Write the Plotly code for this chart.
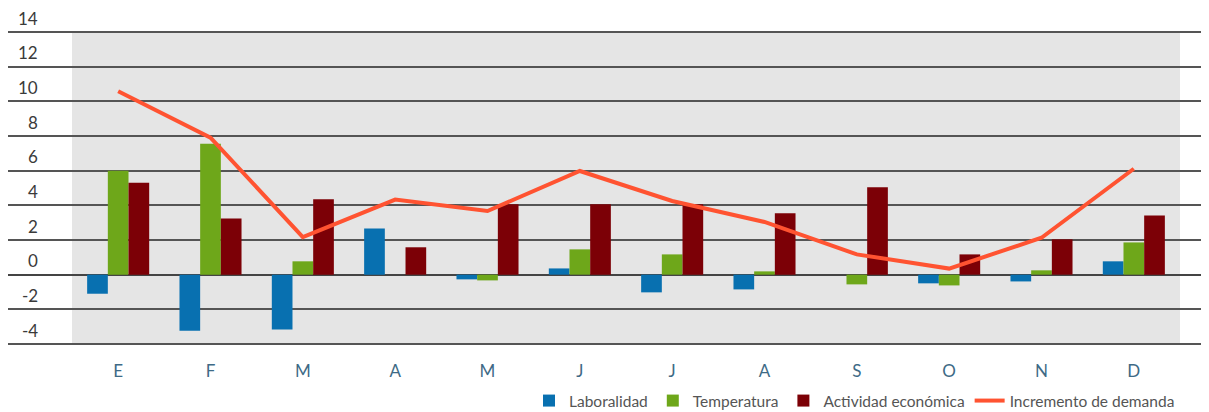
import plotly.graph_objects as go

# ---- data ----
months = ["E", "F", "M", "A", "M", "J", "J", "A", "S", "O", "N", "D"]
laboralidad = [-1.1, -3.24, -3.16, 2.67, -0.27, 0.36, -1.02, -0.85, 0.0, -0.5, -0.39, 0.77]
temperatura = [6.0, 7.55, 0.77, 0.0, -0.33, 1.46, 1.17, 0.19, -0.56, -0.62, 0.25, 1.86]
actividad = [5.3, 3.24, 4.35, 1.58, 4.06, 4.06, 4.06, 3.54, 5.04, 1.17, 2.04, 3.42]
incremento = [10.58, 7.9, 2.17, 4.33, 3.67, 5.98, 4.25, 3.04, 1.17, 0.35, 2.13, 6.11]
y_ticks = [-4, -2, 0, 2, 4, 6, 8, 10, 12, 14]

x_pos = list(range(len(months)))

C_BLUE = "#0870b0"
C_GREEN = "#6ea71a"
C_RED = "#7c0006"
C_ORANGE = "#ff5331"
FONT = "Lato"

# page has an 8px body margin: figure is drawn at (8, 8)
OFF = 8
W, H = 1209 - OFF, 412 - OFF
PX_PER_UNIT_X = 92.33
PX_PER_UNIT_Y = 312 / 18
PAD_PX = 3
EPS = PAD_PX / PX_PER_UNIT_Y  # headroom so the edge grid lines are drawn

fig = go.Figure()
fig.add_trace(go.Bar(x=x_pos, y=laboralidad, name="Laboralidad", marker_color=C_BLUE, marker_line_width=0))
fig.add_trace(go.Bar(x=x_pos, y=temperatura, name="Temperatura", marker_color=C_GREEN, marker_line_width=0))
fig.add_trace(go.Bar(x=x_pos, y=actividad, name="Actividad económica", marker_color=C_RED, marker_line_width=0))
fig.add_trace(go.Scatter(x=x_pos, y=incremento, name="Incremento de demanda", mode="lines",
                         line=dict(color=C_ORANGE, width=4)))

# grey background area behind the categories
fig.add_shape(type="rect", xref="x", yref="y", x0=-0.5, x1=len(months) - 0.5,
              y0=y_ticks[0], y1=y_ticks[-1], fillcolor="#e5e5e5", line_width=0, layer="below")

# y tick labels placed above their grid lines, left of the grey area
for v in y_ticks:
    fig.add_annotation(x=(40 - OFF) / W, xref="paper", y=v, yref="y",
                       text=str(v), showarrow=False, xanchor="right", yanchor="middle",
                       yshift=14, font=dict(family=FONT, size=17, color="#3a3a3a"))

fig.update_layout(
    width=W, height=H, autosize=False,
    margin=dict(l=0, r=0, t=32 - OFF - PAD_PX, b=412 - 344 - PAD_PX, autoexpand=False, pad=0),
    paper_bgcolor="white", plot_bgcolor="white",
    barmode="group", bargap=0.328, bargroupgap=0,
    showlegend=True,
    legend=dict(orientation="h", xref="container", yref="container",
                x=(1180 - OFF) / W, xanchor="right",
                y=(412 - 401) / H, yanchor="middle",
                font=dict(family=FONT, size=15.5, color="#555555"),
                bgcolor="rgba(0,0,0,0)", itemwidth=30, tracegroupgap=0),
    xaxis=dict(range=[-0.5 - (72 - OFF) / PX_PER_UNIT_X, len(months) - 0.5 + 29 / PX_PER_UNIT_X],
               tickmode="array", tickvals=x_pos, ticktext=months,
               showgrid=False, zeroline=False, showline=False, ticks="",
               ticklabelstandoff=12,
               tickfont=dict(family=FONT, size=17, color="#3e6a86")),
    yaxis=dict(range=[y_ticks[0] - EPS, y_ticks[-1] + EPS], tickmode="array", tickvals=y_ticks,
               showticklabels=False, showgrid=True, gridcolor="#555555", gridwidth=1.5,
               zeroline=True, zerolinecolor="#444444", zerolinewidth=1.5,
               showline=False, ticks=""),
)

fig.write_html("out.html")
